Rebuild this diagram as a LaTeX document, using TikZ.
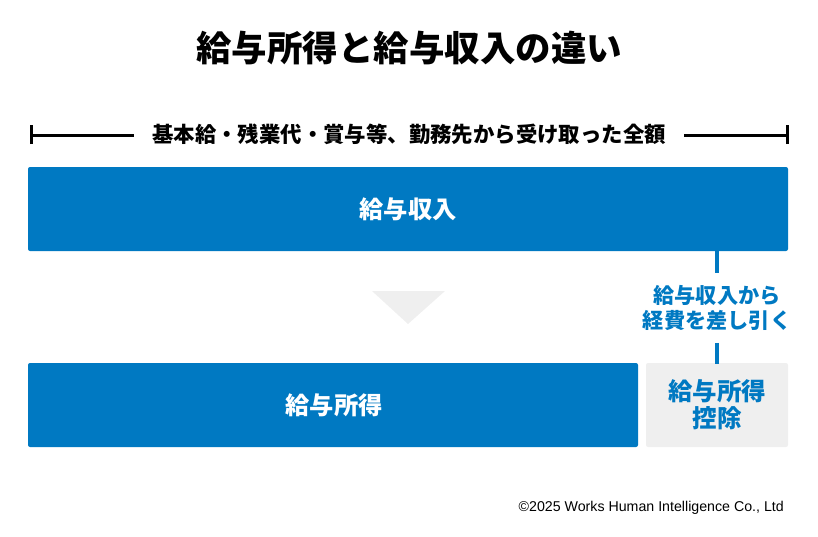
\documentclass[tikz,border=0pt]{standalone}
\usepackage{fontspec}
\newfontfamily\jp{Noto Sans CJK JP}
\newfontfamily\latin{Liberation Sans}
\usetikzlibrary{positioning}
\definecolor{wblue}{RGB}{0,121,194}
\definecolor{wgray}{RGB}{239,239,239}

\begin{document}
\begin{tikzpicture}[x=1pt,y=-1pt,
  every node/.style={inner sep=0pt,font=\jp\bfseries},
  bar/.style={fill=wblue,rounded corners=2pt},
  link/.style={draw=wblue,line width=3.5pt}]
  \useasboundingbox (0,0) rectangle (818,536);

  % Title
  \node (title) at (409,48) {\fontsize{35.5}{40}\selectfont 給与所得と給与収入の違い};

  % Range bracket
  \node[inner xsep=18pt] (range) at (409,134) {\fontsize{21.4}{24}\selectfont 基本給・残業代・賞与等、勤務先から受け取った全額};
  \coordinate (rl) at (31,135);
  \coordinate (rr) at (787,135);
  \draw[line width=3pt] (rl) -- (range.west |- rl);
  \draw[line width=3pt] (range.east |- rr) -- (rr);
  \draw[line width=3pt] ([yshift=-9pt]rl) -- ([yshift=10pt]rl);
  \draw[line width=3pt] ([yshift=-9pt]rr) -- ([yshift=10pt]rr);

  % Boxes
  \path[bar] (28,167) rectangle (788,251);
  \node[text=white] (income) at (408,209) {\fontsize{24.3}{28}\selectfont 給与収入};
  \path[bar] (28,363) rectangle (638,447);
  \node[text=white] (salary) at (334,405) {\fontsize{24.3}{28}\selectfont 給与所得};
  \path[fill=wgray,rounded corners=2pt] (646,363) rectangle (788,447);
  \node[text=wblue,align=center,font=\jp\bfseries\fontsize{24.5}{27}\selectfont] (deduct) at (717,405) {給与所得\\控除};

  % Down arrow
  \fill[wgray] (372,291) -- (445,291) -- (408,324) -- cycle;

  % Note between the boxes
  \node[text=wblue,align=center,inner ysep=12pt,
    font=\jp\bfseries\fontsize{21.2}{25}\selectfont] (note) at (717,308) {給与収入から\\経費を差し引く};
  \coordinate (ntop) at (717,251);
  \coordinate (nbot) at (717,364);
  \draw[link] (ntop) -- (note.north);
  \draw[link] (note.south) -- (nbot);

  % Credit
  \node[anchor=east,font=\latin\fontsize{14.2}{16}\selectfont] (credit) at (784,508) {©2025 Works Human Intelligence Co., Ltd};
\end{tikzpicture}
\end{document}
